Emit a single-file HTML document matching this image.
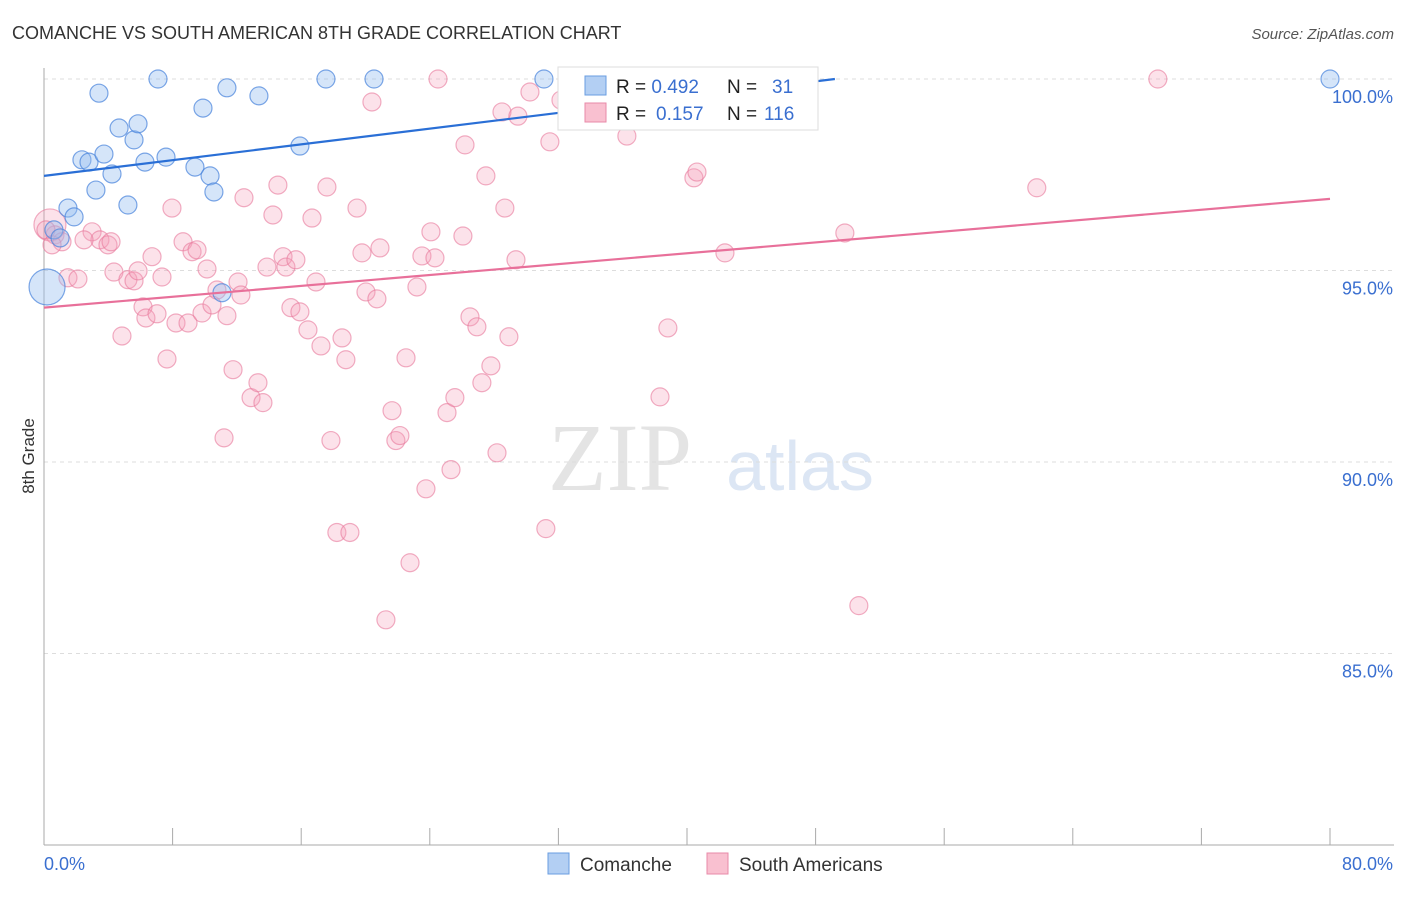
<!DOCTYPE html>
<html><head><meta charset="utf-8"><style>
body{margin:0;background:#fff;font-family:"Liberation Sans",sans-serif}
</style></head><body>
<svg width="1406" height="892" xmlns="http://www.w3.org/2000/svg">
<text x="12" y="39" font-size="18" fill="#333">COMANCHE VS SOUTH AMERICAN 8TH GRADE CORRELATION CHART</text>
<text x="1394" y="39" font-size="15" fill="#555" text-anchor="end" font-style="italic">Source: ZipAtlas.com</text>
<text x="620" y="490" font-size="96" fill="#e4e4e4" text-anchor="middle" font-family="Liberation Serif">ZIP</text>
<text x="800" y="490" font-size="70" fill="#dce6f4" text-anchor="middle">atlas</text>
<g id="grid"></g>
<g id="axes"></g>
<g id="marks"></g>
<text x="34" y="456" font-size="17" fill="#333" text-anchor="middle" transform="rotate(-90 34 456)">8th Grade</text>
<g>
<rect x="558" y="67" width="260" height="63" fill="#fff" stroke="#ddd"/>
<rect x="585" y="76" width="21" height="19" fill="#b3cff3" stroke="#6a9de0"/>
<rect x="585" y="103" width="21" height="19" fill="#f9c0d0" stroke="#e88aa8"/>
<text x="616" y="93" font-size="19" fill="#222">R = <tspan fill="#3a6fd0">0.492</tspan><tspan x="727">N =</tspan><tspan x="772" fill="#3a6fd0">31</tspan></text>
<text x="616" y="120" font-size="19" fill="#222">R = <tspan x="656" fill="#3a6fd0">0.157</tspan><tspan x="727">N =</tspan><tspan x="764" fill="#3a6fd0">116</tspan></text>
</g>
<g>
<rect x="548" y="853" width="21" height="21" fill="#b3cff3" stroke="#6a9de0"/>
<text x="580" y="871" font-size="19" fill="#333">Comanche</text>
<rect x="707" y="853" width="21" height="21" fill="#f9c0d0" stroke="#e88aa8"/>
<text x="739" y="871" font-size="19" fill="#333">South Americans</text>
</g>
</svg>
<script>
const blueX=[0.19,0.62,1.0,1.49,1.87,2.36,2.80,3.23,3.42,3.73,4.23,4.67,5.22,5.60,5.85,6.28,7.09,7.59,9.39,9.89,10.33,10.57,11.07,11.38,13.37,15.92,17.54,20.53,31.1,80];
const blueY=[94.57,96.06,95.85,96.63,96.40,97.89,97.83,97.10,99.63,98.04,97.52,98.72,96.71,98.41,98.83,97.83,100,97.96,97.70,99.24,97.47,97.05,94.42,99.77,99.56,98.25,100,100,100,100];
const pinkX=[0.37,0.68,1.12,1.49,2.11,2.99,3.48,3.98,4.17,4.85,4.35,5.22,5.60,5.85,6.16,6.34,6.72,7.03,7.34,7.65,7.96,8.21,8.65,8.96,9.21,9.52,9.83,10.14,10.45,10.76,11.20,11.38,11.76,12.07,12.25,12.44,12.88,13.31,13.62,13.87,14.24,14.55,14.87,15.05,15.36,15.67,15.92,16.42,16.67,16.92,17.23,17.60,17.85,18.22,18.54,18.78,19.03,19.47,19.78,20.03,20.40,20.71,20.90,21.27,21.65,21.89,22.14,22.52,22.77,23.20,23.51,23.76,24.07,24.32,24.51,25.07,25.32,25.56,26.06,26.19,26.50,26.93,27.24,27.49,27.80,28.18,28.49,28.67,28.92,29.36,29.48,30.23,31.22,31.47,32.16,32.59,33.09,34.52,36.26,38.32,38.81,40.43,40.62,41.11,42.36,49.82,50.69,61.76,69.29,0.12,0.50,2.49];
const pinkY=[96.19,95.93,95.75,94.81,94.78,96.01,95.80,95.67,95.75,93.29,94.96,94.76,94.73,94.99,94.05,93.76,95.36,93.87,94.83,92.69,96.63,93.63,95.75,93.63,95.49,95.54,93.89,95.04,94.10,94.49,90.63,93.82,92.41,94.70,94.36,96.90,91.68,92.07,91.55,95.09,96.45,97.23,95.36,95.09,94.03,95.28,93.92,93.45,96.37,94.70,93.03,97.18,90.56,88.16,93.24,92.67,88.16,96.63,95.46,94.44,99.40,94.26,95.59,85.88,91.34,90.56,90.69,92.72,87.37,94.57,95.38,89.30,96.01,95.33,100,91.29,89.80,91.68,95.90,98.28,93.79,93.53,92.07,97.47,92.51,90.24,99.14,96.63,93.27,95.28,99.03,99.66,88.26,98.36,99.45,100,100,99.17,98.51,91.70,93.50,97.42,97.57,100,95.46,95.98,86.25,97.16,100,96.06,95.67,95.80];
const yTicks=[100,95,90,85];
const yTickLabels=["100.0%","95.0%","90.0%","85.0%"];
const blueLine=[[0,97.47],[49.2,100]];
const pinkLine=[[0,94.03],[80,96.87]];
const NS="http://www.w3.org/2000/svg";
const X0=44,X1=1330,Y0=79,Y1=845;
const sx=v=>X0+(v/80)*(X1-X0);
const sy=v=>Y0+(100-v)/20*(Y1-Y0);
function mk(t,a,p){const e=document.createElementNS(NS,t);for(const k in a)e.setAttribute(k,a[k]);p.appendChild(e);return e;}
const grid=document.getElementById('grid'),axes=document.getElementById('axes'),marks=document.getElementById('marks');
yTicks.forEach((t,i)=>{
 const l=mk('line',{x1:X0,x2:1394,y1:sy(t),y2:sy(t),stroke:'#ddd','stroke-dasharray':'4 4'},grid);
 
 
 const tx=mk('text',{x:1393,y:sy(t)+24,'font-size':18,fill:'#3a6fd0','text-anchor':'end'},axes);
 tx.textContent=yTickLabels[i];
 
 
});
let a=mk('line',{x1:X0,x2:X0,y1:68,y2:Y1,stroke:'#aaa'},axes);


a=mk('line',{x1:X0,x2:1394,y1:Y1,y2:Y1,stroke:'#aaa'},axes);


for(let v=0;v<=80;v+=8){
 const t=mk('line',{x1:sx(v),x2:sx(v),y1:Y1-17,y2:Y1,stroke:'#aaa'},axes);
 
 
}
[[0,"0.0%","start",44],[80,"80.0%","end",1393]].forEach(d=>{
 const t=mk('text',{x:d[3],y:870,'font-size':18,fill:'#3a6fd0','text-anchor':d[2]},axes);
 t.textContent=d[1];
 
 
});
pinkX.forEach((x,i)=>{
 const c=mk('circle',{cx:sx(x),cy:sy(pinkY[i]),r:i===0?16:9,fill:'rgba(245,160,185,0.3)',stroke:'rgba(232,120,155,0.6)','stroke-width':1.2},marks);
 
 
});
blueX.forEach((x,i)=>{
 const c=mk('circle',{cx:sx(x),cy:sy(blueY[i]),r:i===0?18:9,fill:'rgba(150,190,240,0.4)',stroke:'rgba(70,130,220,0.7)','stroke-width':1.2},marks);
 
 
});
let ln=mk('line',{x1:sx(blueLine[0][0]),y1:sy(blueLine[0][1]),x2:sx(blueLine[1][0]),y2:sy(blueLine[1][1]),stroke:'#2a6fd6','stroke-width':2.2},marks);


ln=mk('line',{x1:sx(pinkLine[0][0]),y1:sy(pinkLine[0][1]),x2:sx(pinkLine[1][0]),y2:sy(pinkLine[1][1]),stroke:'#e8709a','stroke-width':2.2},marks);


</script>
</body></html>
